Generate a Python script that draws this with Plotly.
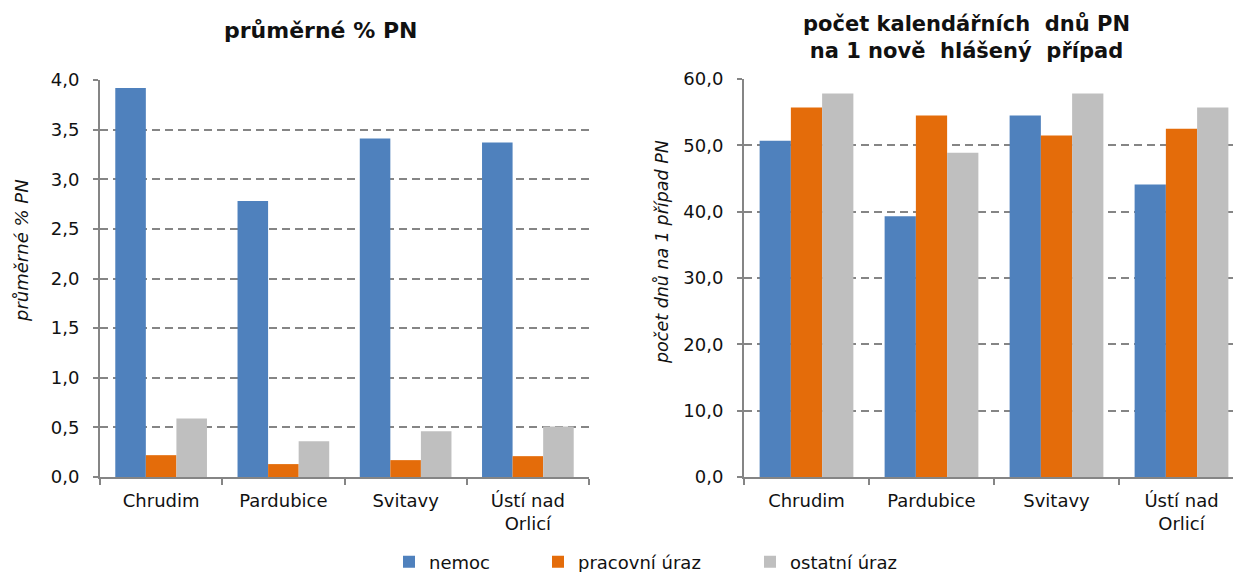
import plotly.graph_objects as go

categories = ["Chrudim", "Pardubice", "Svitavy", "Ústí nad<br>Orlicí"]
series_names = ["nemoc", "pracovní úraz", "ostatní úraz"]
colors = ["#4F81BD", "#E46C0A", "#BFBFBF"]

# left chart: průměrné % PN
pct_nemoc = [3.92, 2.78, 3.41, 3.37]
pct_pracovni = [0.22, 0.13, 0.17, 0.21]
pct_ostatni = [0.59, 0.36, 0.46, 0.51]

# right chart: počet kalendářních dnů PN na 1 nově hlášený případ
dny_nemoc = [50.7, 39.3, 54.5, 44.1]
dny_pracovni = [55.7, 54.5, 51.5, 52.5]
dny_ostatni = [57.8, 48.9, 57.8, 55.7]

left_tick_vals = [0, 0.5, 1.0, 1.5, 2.0, 2.5, 3.0, 3.5, 4.0]
right_tick_vals = [0, 10, 20, 30, 40, 50, 60]

W, H = 1233, 572
def px(x):
    return x / W
def py(y):
    return 1 - y / H

FONT = "DejaVu Sans"
TXT = "#111111"
GRID = "#858585"

fig = go.Figure()
left_vals = [pct_nemoc, pct_pracovni, pct_ostatni]
right_vals = [dny_nemoc, dny_pracovni, dny_ostatni]
legends = ["legend", "legend2", "legend3"]
for i, name in enumerate(series_names):
    fig.add_trace(go.Bar(x=categories, y=left_vals[i], name=name,
                         marker=dict(color=colors[i], line=dict(width=0)),
                         xaxis="x", yaxis="y", legend=legends[i], showlegend=True))
for i, name in enumerate(series_names):
    fig.add_trace(go.Bar(x=categories, y=right_vals[i], name=name,
                         marker=dict(color=colors[i], line=dict(width=0)),
                         xaxis="x2", yaxis="y2", showlegend=False))

axis_common_x = dict(type="category", showline=True, linecolor=GRID, linewidth=2,
                     ticks="outside", tickson="boundaries", ticklen=6, tickwidth=1.5,
                     tickcolor=GRID, showgrid=False, zeroline=False,
                     tickfont=dict(family=FONT, size=18, color=TXT),
                     ticklabelstandoff=6)
axis_common_y = dict(showline=True, linecolor=GRID, linewidth=2, ticks="outside",
                     ticklen=5, tickwidth=1.5, tickcolor=GRID, showgrid=True,
                     gridcolor=GRID, gridwidth=1.5, griddash="8px,5px",
                     zeroline=False, tickformat=".1f",
                     tickfont=dict(family=FONT, size=18, color=TXT),
                     ticklabelstandoff=10)

fig.update_layout(
    width=W, height=H, autosize=False,
    margin=dict(l=0, r=0, t=0, b=0, autoexpand=False),
    paper_bgcolor="white", plot_bgcolor="white",
    separators=", ",
    barmode="group", bargap=0.25, bargroupgap=0,
    xaxis=dict(domain=[px(100), px(589)], anchor="y", range=[-0.5, 3.5], **axis_common_x),
    yaxis=dict(domain=[py(477), py(80)], anchor="x", range=[0, 4], tickvals=left_tick_vals, **axis_common_y),
    xaxis2=dict(domain=[px(744), 1.0], anchor="y2", range=[-0.5, -0.5 + (W - 744) / 125.0], **axis_common_x),
    yaxis2=dict(domain=[py(477), py(79)], anchor="x2", range=[0, 60], tickvals=right_tick_vals, **axis_common_y),
)

leg_common = dict(orientation="h", yanchor="middle", xanchor="left", y=py(562),
                  font=dict(family=FONT, size=18, color=TXT), bgcolor="rgba(0,0,0,0)",
                  borderwidth=0, itemwidth=30)
fig.update_layout(
    legend=dict(x=px(389), **leg_common),
    legend2=dict(x=px(538), **leg_common),
    legend3=dict(x=px(750), **leg_common),
)

annotations = [
    dict(text="<b>průměrné % PN</b>", x=px(320), y=py(30), xref="paper", yref="paper",
         showarrow=False, xanchor="center", yanchor="middle",
         font=dict(family=FONT, size=22, color=TXT)),
    dict(text="<b>počet kalendářních  dnů PN<br>na 1 nově  hlášený  případ</b>", x=px(966), y=py(37),
         xref="paper", yref="paper", showarrow=False, xanchor="center", yanchor="middle",
         font=dict(family=FONT, size=21, color=TXT)),
    dict(text="<i>průměrné % PN</i>", x=px(22), y=py(251), xref="paper", yref="paper",
         showarrow=False, xanchor="center", yanchor="middle", textangle=-90,
         font=dict(family=FONT, size=18, color=TXT)),
    dict(text="<i>počet dnů na 1 případ PN</i>", x=px(662), y=py(252), xref="paper", yref="paper",
         showarrow=False, xanchor="center", yanchor="middle", textangle=-90,
         font=dict(family=FONT, size=17.5, color=TXT)),
]
fig.update_layout(annotations=annotations)

fig.write_html("out.html", config={"displayModeBar": False},
               post_script="document.body.style.margin='0';")
